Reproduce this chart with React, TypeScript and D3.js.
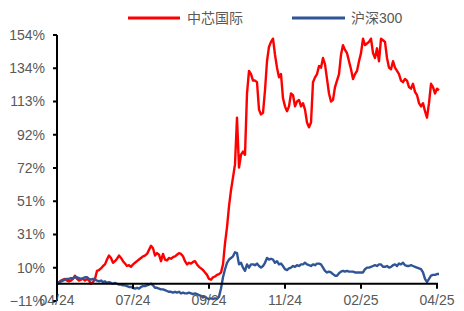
import React from "react";
import * as d3 from "d3";

const W = 464;
const H = 311;

// 中芯国际, cumulative return (%), one value per sample
const smicValues = [
  0, 1, 2, 2.5, 3, 2, 1.5, 2, 3, 5,
  3, 2, 2.5, 3, 2, 3, 2, 0, 1, 3,
  8, 8.5, 9.5, 11, 12, 15, 17.5, 16, 13, 14,
  15.5, 17.5, 16, 14, 12.5, 11, 11.5, 10.5, 12, 13,
  14, 15, 16, 17, 17.5, 18.5, 21, 23.5, 22, 17.5,
  19, 18, 14, 18.5, 15, 14.5, 16, 15.5, 16.5, 17,
  18, 19, 18.5, 17, 14, 12, 13, 12.5, 13.5, 14,
  12, 10.5, 9.5, 8.5, 7, 5.5, 3, 2.5, 4, 4.5,
  5.5, 6, 7, 12, 25, 35, 48, 58, 66, 74,
  103, 72, 80, 82, 80, 118, 132, 130, 126, 126,
  125, 108, 105, 106, 120, 138, 147, 150, 152, 142,
  134, 128, 130, 115, 110, 107, 110, 118, 117, 110,
  113, 114, 110, 112, 108, 100, 97, 100, 125, 128,
  130, 135, 134, 140, 136, 127, 118, 113, 114, 122,
  126, 130, 142, 148, 145, 143, 138, 133, 127, 130,
  132, 138, 143, 152, 148, 149, 150, 152, 143, 140,
  146, 138, 152, 151, 150, 140, 134, 133, 138, 134,
  132, 130, 126, 125, 127, 126, 122, 121, 124, 119,
  117, 112, 110, 112, 107, 103, 112, 124, 122, 118,
  121, 120,
];

// 沪深300, cumulative return (%)
const csi300Values = [
  0, 0.5, 1.5, 2, 2.5, 3, 3, 3.5, 3.5, 4,
  4, 3.5, 3, 3.5, 4, 4, 3, 2.5, 3, 2.5,
  2, 1.5, 2, 1, 1.5, 0.5, 1, 0.5, 0, 0.5,
  0, -0.5, -0.5, -1, -1, -1.5, -2, -2, -2.5, -3,
  -2.5, -3, -2, -1.5, -1.5, -1, -0.5, 0, -1, -2.5,
  -2.5, -3, -3.5, -3.5, -4, -4.5, -5, -5, -5.5, -5,
  -5.5, -5, -6, -5.5, -6, -6, -5.5, -6, -6.5, -6,
  -6.5, -7, -7.5, -8.5, -8, -9, -9.5, -9, -9.5, -9,
  -9.5, -8, -3, 4, 9, 13, 15, 16, 17, 19.5,
  19, 12, 13, 10, 8, 12, 10, 12, 12, 11.5,
  12.5, 11, 10, 11, 13, 16, 15, 15.5, 15, 13,
  14, 12, 12.5, 11, 9, 8.5, 9.5, 10, 11, 10.5,
  11.5, 11, 12, 12, 13, 12, 11.5, 11, 12, 11.5,
  12.5, 12.5, 12, 10, 8, 7, 7.5, 7, 6, 5,
  5, 6.5, 7.5, 8, 7.5, 8, 7.5, 7.5, 7.5, 7,
  7, 7, 7, 7, 9, 10, 10, 10.5, 11, 11.5,
  11, 12, 12, 10.5, 10.5, 11, 10, 10.5, 11.5, 12,
  11, 12.5, 12, 13, 11.5, 11, 11, 11.5, 11, 10.5,
  10, 9.5, 9, 7, 3, 1, 3, 5, 5.5, 5.5,
  6, 6,
];

const xTickLabels = ["04/24", "07/24", "09/24", "11/24", "02/25", "04/25"];
const xTickIndex = [0, 38, 76, 114, 152, 190];

const Y_MIN = -10.7;
const Y_MAX = 154.26;

const series = [
  { name: "中芯国际", values: smicValues, color: "#FF0000" },
  { name: "沪深300", values: csi300Values, color: "#2F5597" },
];

const FONT = "'Liberation Sans', Arial, 'Noto Sans CJK SC', sans-serif";
const GREY = "#595959";

export default function App() {
  const x = d3.scaleLinear().domain([0, 190]).range([57, 437]);
  const y = d3.scaleLinear().domain([Y_MIN, Y_MAX]).range([301, 35]);
  const yTicks = d3.range(9).map((k) => Y_MIN + (k * (Y_MAX - Y_MIN)) / 8);
  const fmt = d3.format(".0f");

  const line = d3
    .line<number>()
    .x((_, i) => x(i))
    .y((d) => y(d));

  const y0 = y(0);

  return (
    <svg
      width={W}
      height={H}
      style={{ position: "absolute", left: 0, top: 0, background: "#fff" }}
      fontFamily={FONT}
    >
      {/* legend */}
      <g fontSize={14} fill={GREY}>
        <line x1={128} x2={180} y1={18} y2={18} stroke="#FF0000" strokeWidth={3} />
        <text x={187} y={23}>中芯国际</text>
        <line x1={292} x2={345} y1={18} y2={18} stroke="#2F5597" strokeWidth={3} />
        <text x={351} y={23}>沪深300</text>
      </g>

      {/* lines */}
      {series.map((s) => (
        <path
          key={s.name}
          d={line(s.values) ?? ""}
          fill="none"
          stroke={s.color}
          strokeWidth={2.4}
          strokeLinejoin="round"
        />
      ))}

      {/* y axis */}
      <line x1={57} x2={57} y1={y(Y_MAX)} y2={y(Y_MIN)} stroke="#000" strokeWidth={2} />
      {yTicks.map((t) => (
        <g key={t}>
          <line x1={53} x2={57} y1={y(t)} y2={y(t)} stroke="#000" strokeWidth={2} />
          <text
            x={45}
            y={y(t)}
            dy="0.35em"
            textAnchor="end"
            fontSize={14}
            fill={GREY}
          >
            {fmt(t)}%
          </text>
        </g>
      ))}

      {/* x axis at zero */}
      <line x1={57} x2={438} y1={y0} y2={y0} stroke="#000" strokeWidth={2} />
      {xTickIndex.map((idx, k) => (
        <g key={idx}>
          <line x1={x(idx)} x2={x(idx)} y1={y0} y2={y0 + 5} stroke="#000" strokeWidth={2} />
          <text
            x={x(idx)}
            y={305}
            textAnchor="middle"
            fontSize={14}
            fill={GREY}
          >
            {xTickLabels[k]}
          </text>
        </g>
      ))}
    </svg>
  );
}
